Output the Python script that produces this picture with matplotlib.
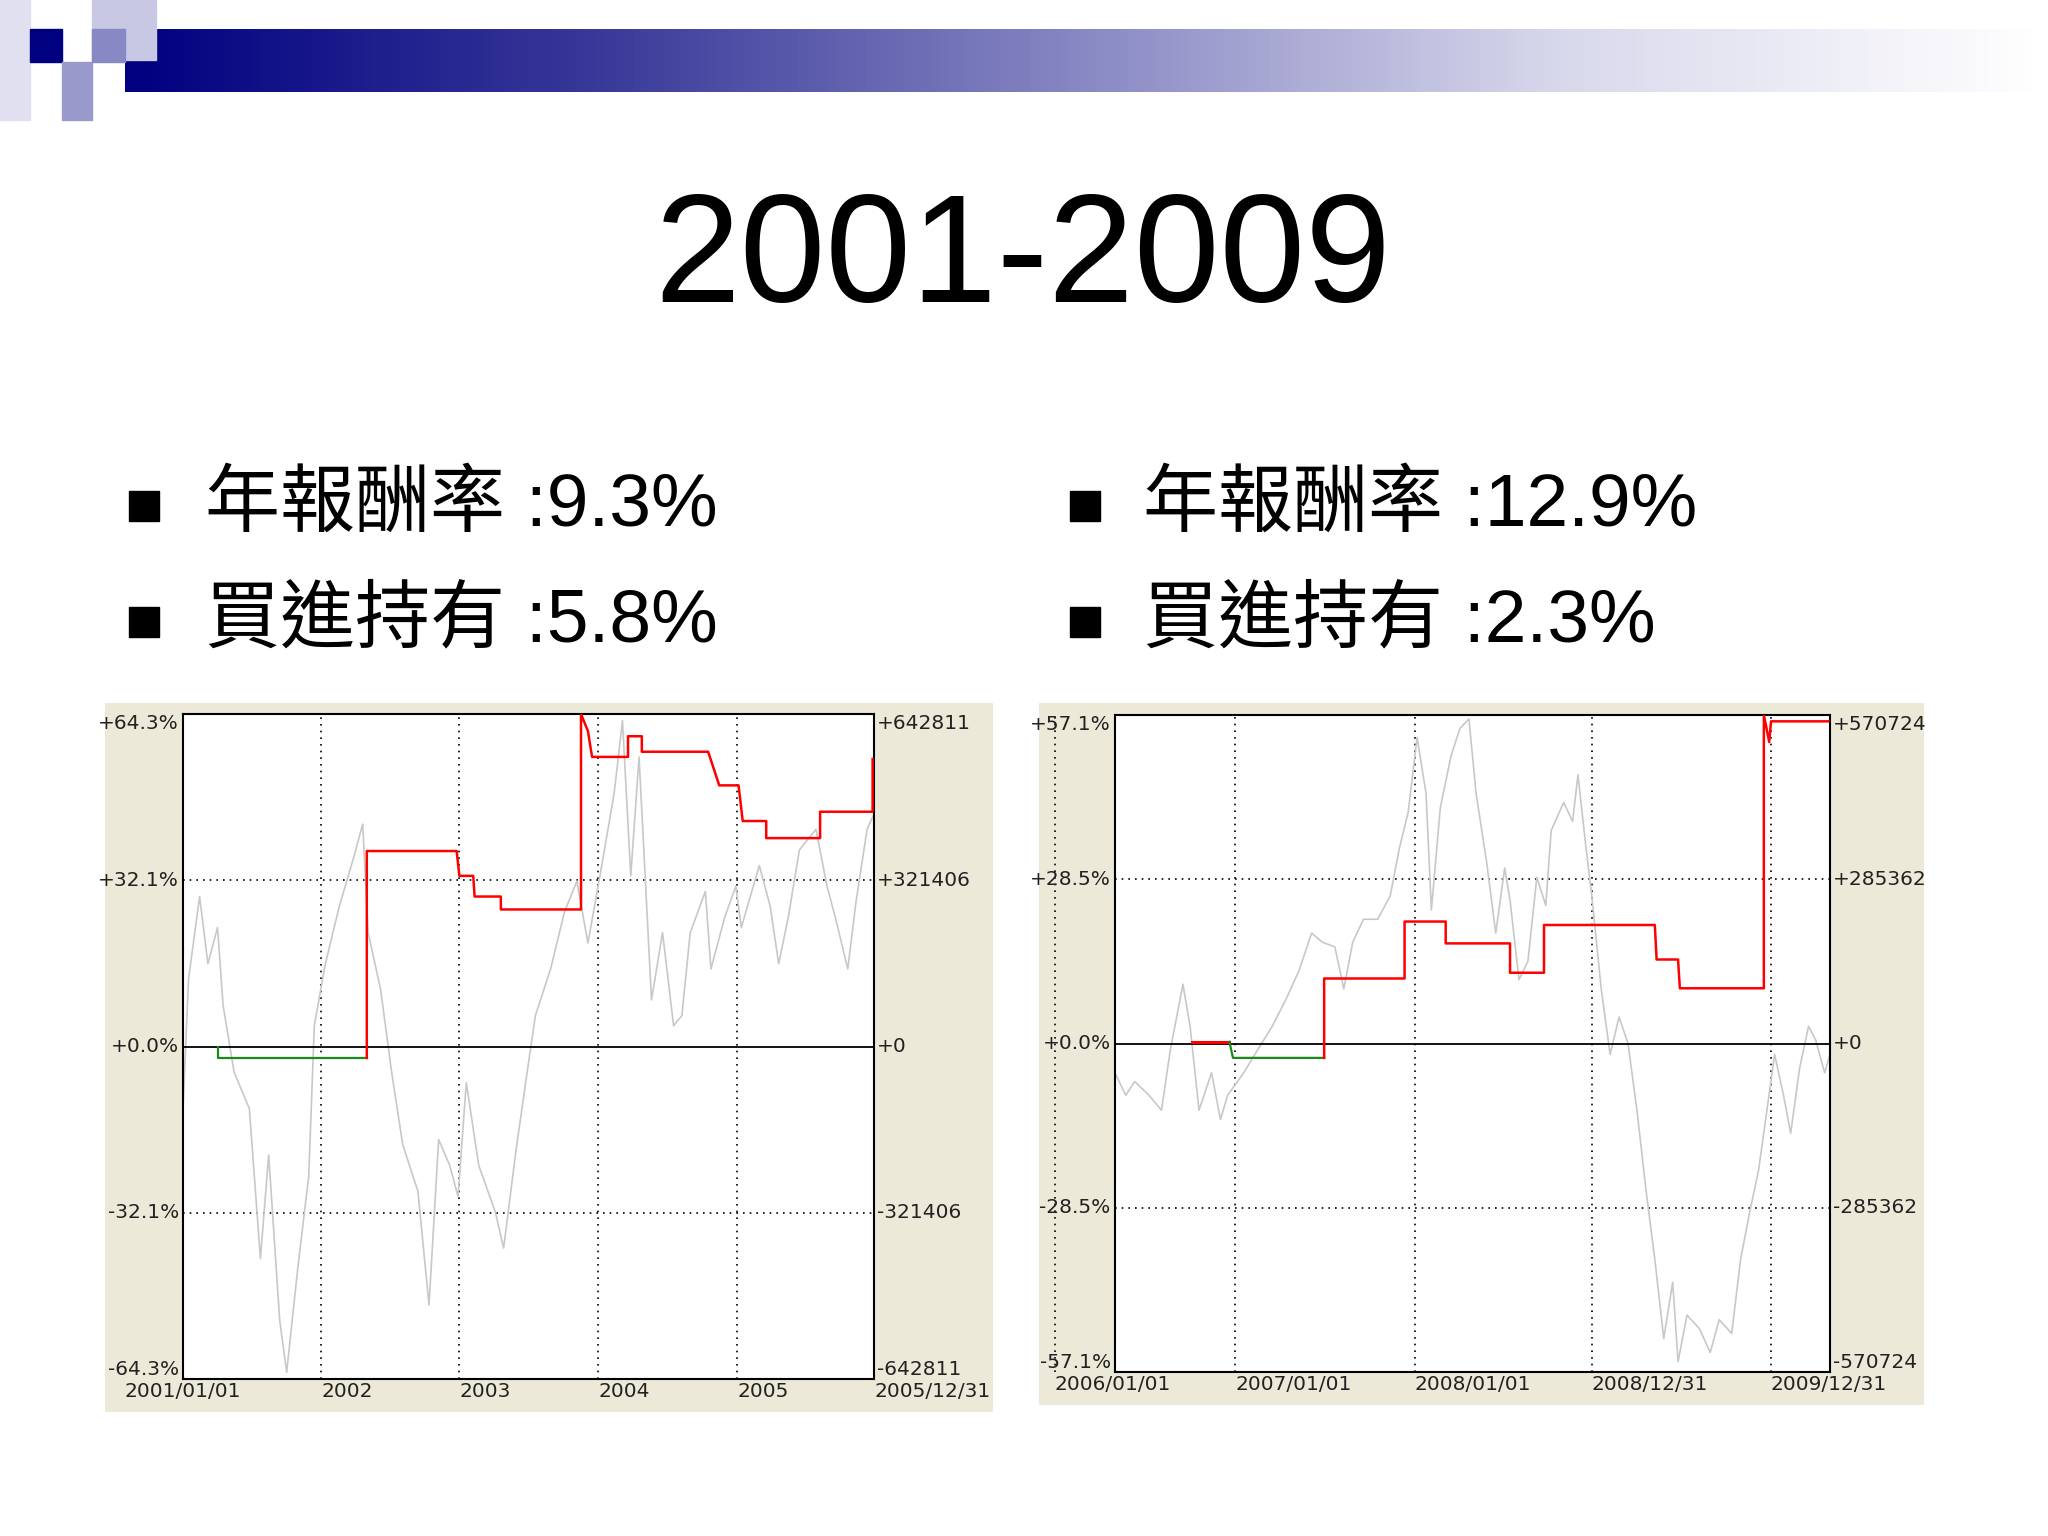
import matplotlib.pyplot as plt
import matplotlib.patches as mpatches
import numpy as np

# ── Data ────────────────────────────────────────────────────────────────────
TITLE = '2001-2009'
LEFT_BULLETS = ['年報酬率 :9.3%', '買進持有 :5.8%']
RIGHT_BULLETS = ['年報酬率 :12.9%', '買進持有 :2.3%']

# left chart: 2001/01/01 - 2005/12/31, percent
L_YMAX = 64.3
L_LEFT_LABELS = ['+64.3%', '+32.1%', '+0.0%', '-32.1%', '-64.3%']
L_RIGHT_LABELS = ['+642811', '+321406', '+0', '-321406', '-642811']
L_XLABELS = ['2001/01/01', '2002', '2003', '2004', '2005', '2005/12/31']
# label / grid positions as fraction of the plot width
L_XLABEL_POS = [0.0, 0.200, 0.400, 0.601, 0.802, 1.0]
L_GRID_POS = [0.200, 0.400, 0.601, 0.802]
l_gray_x = [2001.0, 2001.04, 2001.12, 2001.18, 2001.25, 2001.29, 2001.37, 2001.48, 2001.56,
            2001.62, 2001.70, 2001.75, 2001.83, 2001.91, 2001.95, 2002.03, 2002.13, 2002.24,
            2002.30, 2002.34, 2002.43, 2002.51, 2002.59, 2002.70, 2002.78, 2002.85, 2002.93,
            2002.99, 2003.05, 2003.14, 2003.26, 2003.32, 2003.41, 2003.49, 2003.55, 2003.66,
            2003.76, 2003.85, 2003.93, 2004.03, 2004.12, 2004.18, 2004.24, 2004.30, 2004.39,
            2004.47, 2004.55, 2004.61, 2004.67, 2004.78, 2004.82, 2004.92, 2005.00, 2005.04,
            2005.17, 2005.25, 2005.31, 2005.38, 2005.46, 2005.58, 2005.66, 2005.72, 2005.81,
            2005.87, 2005.95, 2006.0]
l_gray_y = [-12, 13, 29, 16, 23, 8, -5, -12, -41, -21, -53, -63, -43, -25, 4, 16, 27, 37,
            43, 22, 11, -5, -19, -28, -50, -18, -23, -29, -7, -23, -32, -39, -20, -5, 6, 15,
            26, 32, 20, 35, 49, 63, 33, 56, 9, 22, 4, 6, 22, 30, 15, 25, 31, 23, 35, 27, 16,
            25, 38, 42, 31, 25, 15, 28, 42, 45]
l_green_x = [2001.25, 2001.25, 2002.33]
l_green_y = [0, -2.2, -2.2]
l_red_x = [2002.33, 2002.33, 2002.98, 2003.00, 2003.10, 2003.11, 2003.30, 2003.30, 2003.88,
           2003.88, 2003.93, 2003.96, 2004.22, 2004.22, 2004.32, 2004.32, 2004.80, 2004.88,
           2005.02, 2005.05, 2005.22, 2005.22, 2005.61, 2005.61, 2005.99, 2005.99]
l_red_y = [-2.2, 37.8, 37.8, 33.0, 33.0, 29.0, 29.0, 26.5, 26.5, 64.3, 61.0, 56.0, 56.0,
           60.0, 60.0, 57.0, 57.0, 50.5, 50.5, 43.6, 43.6, 40.3, 40.3, 45.4, 45.4, 55.6]

# right chart: 2006/01/01 - 2009/12/31 (t = position over plot, 0..4), percent
R_YMAX = 57.1
R_LEFT_LABELS = ['+57.1%', '+28.5%', '+0.0%', '-28.5%', '-57.1%']
R_RIGHT_LABELS = ['+570724', '+285362', '+0', '-285362', '-570724']
R_XLABELS = ['2006/01/01', '2007/01/01', '2008/01/01', '2008/12/31', '2009/12/31']
R_XLABEL_POS = [-0.084, 0.168, 0.419, 0.667, 0.917]
R_GRID_POS = [-0.084, 0.168, 0.419, 0.667, 0.917]
r_gray_t = [0, .06, .11, .19, .26, .31, .36, .38, .42, .47, .54, .59, .63, .72, .80, .88,
            .96, 1.03, 1.10, 1.16, 1.23, 1.28, 1.33, 1.39, 1.47, 1.54, 1.59, 1.64, 1.69, 1.74,
            1.77, 1.82, 1.88, 1.93, 1.98, 2.02, 2.08, 2.13, 2.18, 2.21, 2.26, 2.31, 2.36, 2.41,
            2.44, 2.51, 2.56, 2.59, 2.63, 2.67, 2.72, 2.77, 2.82, 2.87, 2.92, 2.97, 3.02, 3.07,
            3.12, 3.15, 3.20, 3.27, 3.33, 3.38, 3.45, 3.50, 3.55, 3.60, 3.64, 3.69, 3.74, 3.78,
            3.83, 3.88, 3.92, 3.97, 4.0]
r_gray_y = [-5.1, -9, -6.6, -9, -11.6, -1, 7, 10.3, 3, -11.6, -5.1, -13.2, -9, -5.1, -1, 3,
            7.9, 12.7, 19.2, 17.6, 16.8, 9.5, 17.6, 21.6, 21.6, 25.7, 33.8, 40.2, 53.2, 43.5,
            23.2, 41, 50, 54.8, 56.4, 43.5, 31.3, 19.2, 30.5, 24.9, 11.1, 14.3, 28.9, 24, 37,
            41.9, 38.6, 46.7, 35.4, 24.9, 9.5, -1.9, 4.6, 0, -11.6, -25.3, -37.5, -51.3, -41.5,
            -55.3, -47.2, -49.6, -53.7, -48, -50.4, -37.5, -29.4, -22.1, -13.2, -1.9, -9,
            -15.6, -4.3, 3, 0.6, -5.1, -1.9]
r_red0_t = [0.43, 0.64]
r_red0_y = [0.3, 0.3]
r_green_t = [0.64, 0.66, 1.17]
r_green_y = [0.3, -2.5, -2.5]
r_red_t = [1.17, 1.17, 1.62, 1.62, 1.85, 1.85, 2.21, 2.21, 2.40, 2.40, 3.02, 3.03, 3.15,
           3.16, 3.63, 3.63, 3.66, 3.67, 3.99]
r_red_y = [-2.5, 11.3, 11.3, 21.2, 21.2, 17.4, 17.4, 12.3, 12.3, 20.6, 20.6, 14.6, 14.6,
           9.6, 9.6, 57.1, 52.4, 56.0, 56.0]

# ── Figure ──────────────────────────────────────────────────────────────────
fig = plt.figure(figsize=(20.48, 15.36), dpi=100)
W, H = 2048, 1536


def px_rect(x0, y0, x1, y1):
    """Pixel box (top-left origin) -> figure fraction rect."""
    return [x0 / W, 1 - y1 / H, (x1 - x0) / W, (y1 - y0) / H]


# banner gradient and squares
bax = fig.add_axes(px_rect(125, 29, 2040, 92))
grad = np.linspace(0, 1, 256)[None, :]
cmap = plt.matplotlib.colors.LinearSegmentedColormap.from_list(
    'banner', ['#000080', '#3a3a9a', '#8888c4', '#d8d8ec', '#ffffff'])
bax.imshow(grad, aspect='auto', cmap=cmap)
bax.axis('off')
for (x0, y0, x1, y1, c) in [(0, 0, 30, 120, '#e0e0f0'), (92, 0, 156, 60, '#c8c8e4'),
                            (30, 29, 62, 62, '#000080'), (62, 62, 92, 120, '#9999cc'),
                            (92, 29, 125, 62, '#8888c4')]:
    fig.patches.append(mpatches.Rectangle((x0 / W, 1 - y1 / H), (x1 - x0) / W, (y1 - y0) / H,
                                          transform=fig.transFigure, color=c, zorder=0))

fig.text(1023 / W, 1 - 262 / H, TITLE, ha='center', va='center', fontsize=111,
         family='Liberation Sans')

TEXT_FAMILY = ['Liberation Sans', 'Noto Sans CJK TC']
for bx, tx, lines in [(144, 205, LEFT_BULLETS), (1085, 1143, RIGHT_BULLETS)]:
    for i, s in enumerate(lines):
        yc = 506 + i * 116
        fig.patches.append(mpatches.Rectangle(((bx - 15) / W, 1 - (yc + 15) / H), 30 / W, 30 / H,
                                              transform=fig.transFigure, color='black'))
        fig.text(tx / W, 1 - yc / H, s, ha='left', va='center', fontsize=54,
                 family=TEXT_FAMILY)

TICK_FONT = dict(fontsize=14.5, family='DejaVu Sans', color='#222222')


def draw_chart(panel, box, ymax, left_labels, right_labels, xmin, xmax, grid_pos,
               xlabel_pos, xlabels, series):
    pax = fig.add_axes(px_rect(*panel))
    pax.set_facecolor('#ece9d8')
    pax.set_xticks([])
    pax.set_yticks([])
    for s in pax.spines.values():
        s.set_visible(False)

    ax = fig.add_axes(px_rect(*box))
    ax.set_xlim(xmin, xmax)
    ax.set_ylim(-ymax, ymax)
    yt = [ymax, ymax / 2, 0, -ymax / 2, -ymax]
    for y in yt:
        if y != 0:
            ax.axhline(y, color='black', lw=1.2, ls=(0, (1, 3)), zorder=1)
    for x in grid_pos:
        ax.plot([x, x], [0, 1], color='black', lw=1.2, ls=(0, (1, 3)), zorder=1,
                transform=ax.transAxes, clip_on=False)
    for xs, ys, c, lw in series:
        ax.plot(xs, ys, color=c, lw=lw, zorder=3 if c != '#c8c8c8' else 2)
    ax.axhline(0, color='black', lw=1.3, zorder=2.5)
    for s in ax.spines.values():
        s.set_linewidth(1.5)
    ax.set_xticks([])
    ax.set_yticks([])
    for i, (y, ll, rl) in enumerate(zip(yt, left_labels, right_labels)):
        va = 'bottom' if i == len(yt) - 1 else ('top' if i == 0 else 'center')
        ax.text(-0.006, y, ll, transform=ax.get_yaxis_transform(), ha='right', va=va,
                **TICK_FONT)
        ax.text(1.004, y, rl, transform=ax.get_yaxis_transform(), ha='left', va=va,
                **TICK_FONT)
    for x, lab in zip(xlabel_pos, xlabels):
        ha = 'center' if x == 0.0 else 'left'
        ax.text(x, -0.004, lab, transform=ax.transAxes, ha=ha, va='top', **TICK_FONT)
    return ax


draw_chart((105, 703, 993, 1412), (183, 714, 874, 1379), L_YMAX, L_LEFT_LABELS, L_RIGHT_LABELS,
           2001.0, 2006.0, L_GRID_POS, L_XLABEL_POS, L_XLABELS,
           [(l_gray_x, l_gray_y, '#c8c8c8', 1.2),
            (l_green_x, l_green_y, '#1a8a1a', 1.6),
            (l_red_x, l_red_y, '#ff0000', 1.8)])

draw_chart((1039, 703, 1924, 1405), (1115, 715, 1830, 1372), R_YMAX, R_LEFT_LABELS,
           R_RIGHT_LABELS, 0.0, 4.0, R_GRID_POS, R_XLABEL_POS, R_XLABELS,
           [(r_gray_t, r_gray_y, '#c8c8c8', 1.2),
            (r_red0_t, r_red0_y, '#ff0000', 2.2),
            (r_green_t, r_green_y, '#1a8a1a', 1.6),
            (r_red_t, r_red_y, '#ff0000', 1.8)])

fig.savefig('out.png', dpi=100)
